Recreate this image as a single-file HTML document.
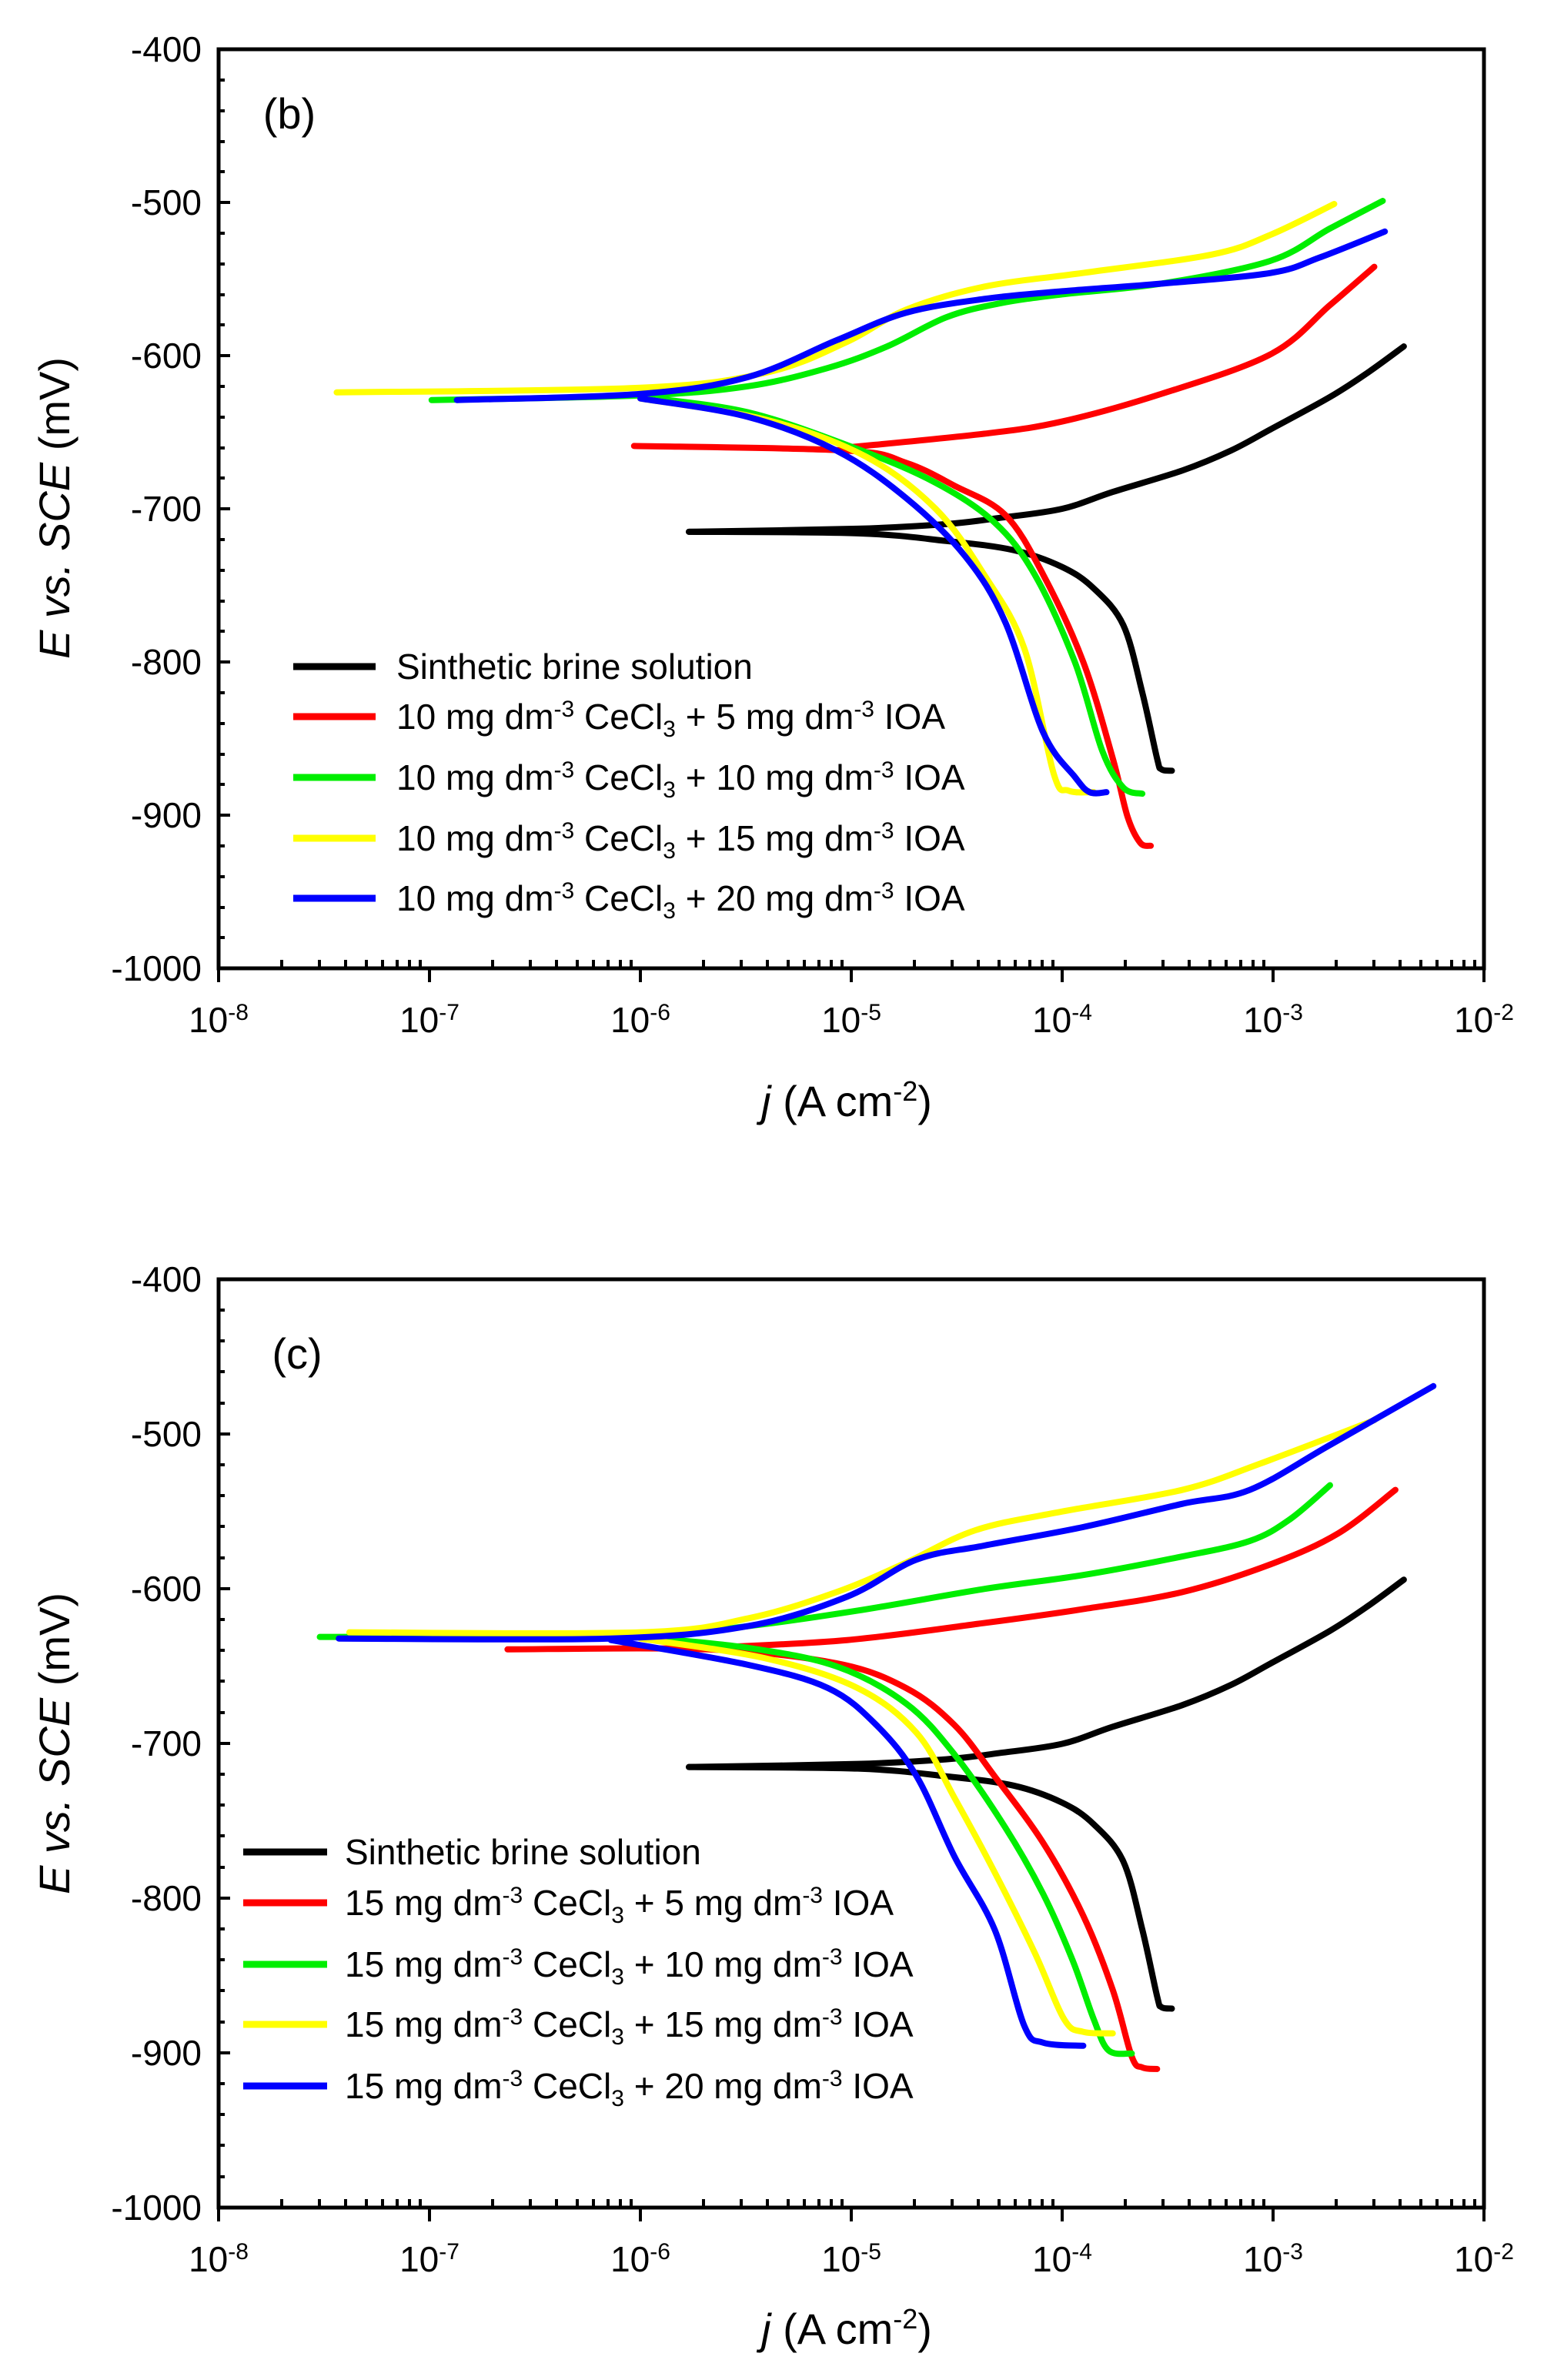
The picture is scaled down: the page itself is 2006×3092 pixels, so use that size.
<!DOCTYPE html>
<html><head><meta charset="utf-8"><style>
html,body{margin:0;padding:0;background:#fff;}
svg{display:block;}
text{font-family:"Liberation Sans",Arial,sans-serif;fill:#000;}
path.cv{stroke-width:8px;}
</style></head><body>
<svg id="root" width="2006" height="3092" viewBox="0 0 2006 3092" xmlns="http://www.w3.org/2000/svg">

<!-- ================= PLOT B ================= -->
<g id="pb">
<rect x="284" y="64" width="1644" height="1194" fill="none" stroke="#000" stroke-width="5"/>
<g stroke="#000" stroke-width="4">
<path d="M284,263h15M284,462h15M284,661h15M284,860h15M284,1059h15"/>
<path d="M284,104h8M284,144h8M284,184h8M284,223h8M284,303h8M284,343h8M284,383h8M284,422h8M284,502h8M284,542h8M284,582h8M284,621h8M284,701h8M284,741h8M284,781h8M284,820h8M284,900h8M284,940h8M284,980h8M284,1019h8M284,1099h8M284,1139h8M284,1179h8M284,1218h8"/>
<path d="M284,1258v18M558,1258v18M832,1258v18M1106,1258v18M1380,1258v18M1654,1258v18M1928,1258v18"/>
</g>
<g font-size="46" text-anchor="end">
<text x="262" y="80">-400</text>
<text x="262" y="279">-500</text>
<text x="262" y="478">-600</text>
<text x="262" y="677">-700</text>
<text x="262" y="876">-800</text>
<text x="262" y="1075">-900</text>
<text x="262" y="1274">-1000</text>
</g>
<g font-size="46" text-anchor="middle">
<text x="284" y="1341">10<tspan dy="-16" font-size="30">-8</tspan></text>
<text x="558" y="1341">10<tspan dy="-16" font-size="30">-7</tspan></text>
<text x="832" y="1341">10<tspan dy="-16" font-size="30">-6</tspan></text>
<text x="1106" y="1341">10<tspan dy="-16" font-size="30">-5</tspan></text>
<text x="1380" y="1341">10<tspan dy="-16" font-size="30">-4</tspan></text>
<text x="1654" y="1341">10<tspan dy="-16" font-size="30">-3</tspan></text>
<text x="1928" y="1341">10<tspan dy="-16" font-size="30">-2</tspan></text>
</g>
<text x="1100" y="1450" font-size="56" text-anchor="middle"><tspan font-style="italic">j</tspan> (A cm<tspan dy="-20" font-size="36">-2</tspan><tspan dy="20">)</tspan></text>
<text transform="translate(90,660) rotate(-90)" font-size="56" text-anchor="middle"><tspan font-style="italic">E vs. SCE</tspan> (mV)</text>
<text x="376" y="167" font-size="56" text-anchor="middle">(b)</text>

<g transform="matrix(274,0,0,-1.99,2476,-732)" fill="none" stroke-linejoin="round" stroke-linecap="round">
<polyline class="c" stroke="#000" points="-5.77,-715 -4.97,-713 -4.55,-710 -4.3,-706 -4.0,-700 -3.76,-689 -3.43,-675 -3.2,-662 -3.01,-648 -2.73,-627 -2.55,-611 -2.38,-594"/>
<polyline class="c" stroke="#000" points="-5.77,-715 -4.97,-716 -4.55,-721 -4.23,-727 -4.0,-738 -3.85,-752 -3.71,-776 -3.62,-820 -3.55,-863 -3.53,-870 -3.48,-871"/>
<polyline class="c" stroke="#ff0000" points="-6.03,-659 -5.02,-662 -4.74,-670 -4.51,-685 -4.27,-704 -4.09,-743 -3.9,-800 -3.76,-863 -3.69,-901 -3.63,-918 -3.58,-920"/>
<polyline class="c" stroke="#ff0000" points="-5.02,-660 -4.37,-651 -4.0,-643 -3.53,-625 -3.01,-599 -2.73,-567 -2.52,-542"/>
<polyline class="c" stroke="#00ee00" points="-6.99,-629 -6.0,-626 -5.49,-620 -5.11,-608 -4.83,-594 -4.55,-575 -4.3,-566 -4.0,-560 -3.53,-553 -3.01,-538 -2.73,-517 -2.48,-499"/>
<polyline class="c" stroke="#00ee00" points="-6.0,-627 -5.49,-637 -4.97,-661 -4.6,-683 -4.32,-709 -4.13,-743 -3.94,-800 -3.81,-858 -3.71,-882 -3.62,-886"/>
<polyline class="c" stroke="#ffff00" points="-7.44,-624 -6.0,-621 -5.4,-611 -5.02,-591 -4.74,-570 -4.37,-555 -3.9,-546 -3.29,-534 -3.01,-521 -2.71,-501"/>
<polyline class="c" stroke="#ffff00" points="-6.0,-628 -5.4,-642 -4.93,-666 -4.6,-700 -4.37,-743 -4.18,-791 -4.04,-873 -3.97,-884 -3.85,-885"/>
<polyline class="c" stroke="#0000ff" points="-6.87,-629 -6.0,-625 -5.49,-614 -5.07,-590 -4.74,-572 -4.37,-563 -4.0,-558 -3.53,-553 -3.01,-546 -2.78,-536 -2.47,-519"/>
<polyline class="c" stroke="#0000ff" points="-6.0,-628 -5.49,-640 -5.07,-662 -4.74,-693 -4.46,-731 -4.27,-774 -4.09,-846 -3.94,-875 -3.87,-885 -3.79,-885"/>
</g>

<g stroke-width="9">
<line x1="381" y1="866" x2="488" y2="866" stroke="#000"/>
<line x1="381" y1="931" x2="488" y2="931" stroke="#ff0000"/>
<line x1="381" y1="1010" x2="488" y2="1010" stroke="#00ee00"/>
<line x1="381" y1="1089" x2="488" y2="1089" stroke="#ffff00"/>
<line x1="381" y1="1167" x2="488" y2="1167" stroke="#0000ff"/>
</g>
<g font-size="46">
<text x="515" y="882">Sinthetic brine solution</text>
<text x="515" y="947">10 mg dm<tspan dy="-16" font-size="30">-3</tspan><tspan dy="16"> CeCl</tspan><tspan dy="10" font-size="30">3</tspan><tspan dy="-10"> + 5 mg dm</tspan><tspan dy="-16" font-size="30">-3</tspan><tspan dy="16"> IOA</tspan></text>
<text x="515" y="1026">10 mg dm<tspan dy="-16" font-size="30">-3</tspan><tspan dy="16"> CeCl</tspan><tspan dy="10" font-size="30">3</tspan><tspan dy="-10"> + 10 mg dm</tspan><tspan dy="-16" font-size="30">-3</tspan><tspan dy="16"> IOA</tspan></text>
<text x="515" y="1105">10 mg dm<tspan dy="-16" font-size="30">-3</tspan><tspan dy="16"> CeCl</tspan><tspan dy="10" font-size="30">3</tspan><tspan dy="-10"> + 15 mg dm</tspan><tspan dy="-16" font-size="30">-3</tspan><tspan dy="16"> IOA</tspan></text>
<text x="515" y="1183">10 mg dm<tspan dy="-16" font-size="30">-3</tspan><tspan dy="16"> CeCl</tspan><tspan dy="10" font-size="30">3</tspan><tspan dy="-10"> + 20 mg dm</tspan><tspan dy="-16" font-size="30">-3</tspan><tspan dy="16"> IOA</tspan></text>
</g>
</g>

<!-- ================= PLOT C ================= -->
<g id="pc">
<rect x="284" y="1662" width="1644" height="1206" fill="none" stroke="#000" stroke-width="5"/>
<g stroke="#000" stroke-width="4">
<path d="M284,1863h15M284,2064h15M284,2265h15M284,2466h15M284,2667h15"/>
<path d="M284,1702h8M284,1742h8M284,1782h8M284,1823h8M284,1903h8M284,1943h8M284,1983h8M284,2024h8M284,2104h8M284,2144h8M284,2184h8M284,2225h8M284,2305h8M284,2345h8M284,2385h8M284,2426h8M284,2506h8M284,2546h8M284,2586h8M284,2627h8M284,2707h8M284,2747h8M284,2787h8M284,2828h8"/>
<path d="M284,2868v18M558,2868v18M832,2868v18M1106,2868v18M1380,2868v18M1654,2868v18M1928,2868v18"/>
</g>
<g font-size="46" text-anchor="end">
<text x="262" y="1678">-400</text>
<text x="262" y="1879">-500</text>
<text x="262" y="2080">-600</text>
<text x="262" y="2281">-700</text>
<text x="262" y="2482">-800</text>
<text x="262" y="2683">-900</text>
<text x="262" y="2884">-1000</text>
</g>
<g font-size="46" text-anchor="middle">
<text x="284" y="2951">10<tspan dy="-16" font-size="30">-8</tspan></text>
<text x="558" y="2951">10<tspan dy="-16" font-size="30">-7</tspan></text>
<text x="832" y="2951">10<tspan dy="-16" font-size="30">-6</tspan></text>
<text x="1106" y="2951">10<tspan dy="-16" font-size="30">-5</tspan></text>
<text x="1380" y="2951">10<tspan dy="-16" font-size="30">-4</tspan></text>
<text x="1654" y="2951">10<tspan dy="-16" font-size="30">-3</tspan></text>
<text x="1928" y="2951">10<tspan dy="-16" font-size="30">-2</tspan></text>
</g>
<text x="1100" y="3045" font-size="56" text-anchor="middle"><tspan font-style="italic">j</tspan> (A cm<tspan dy="-20" font-size="36">-2</tspan><tspan dy="20">)</tspan></text>
<text transform="translate(90,2265) rotate(-90)" font-size="56" text-anchor="middle"><tspan font-style="italic">E vs. SCE</tspan> (mV)</text>
<text x="386" y="1778" font-size="56" text-anchor="middle">(c)</text>

<g transform="matrix(274,0,0,-2.0117,2476,857.3)" fill="none" stroke-linejoin="round" stroke-linecap="round">
<polyline class="c" stroke="#000" points="-5.77,-715 -4.97,-713 -4.55,-710 -4.3,-706 -4.0,-700 -3.76,-689 -3.43,-675 -3.2,-662 -3.01,-648 -2.73,-627 -2.55,-611 -2.38,-594"/>
<polyline class="c" stroke="#000" points="-5.77,-715 -4.97,-716 -4.55,-721 -4.23,-727 -4.0,-738 -3.85,-752 -3.71,-776 -3.62,-820 -3.55,-863 -3.53,-870 -3.48,-871"/>
<polyline class="c" stroke="#ff0000" points="-6.63,-639 -5.68,-639 -5.07,-648 -4.74,-664 -4.51,-688 -4.32,-721 -4.09,-764 -3.9,-811 -3.76,-859 -3.67,-902 -3.62,-909 -3.55,-910"/>
<polyline class="c" stroke="#ff0000" points="-5.68,-638 -5.02,-633 -4.37,-622 -3.9,-613 -3.43,-602 -3.01,-584 -2.69,-564 -2.42,-536"/>
<polyline class="c" stroke="#00ee00" points="-7.52,-631 -6.0,-630 -5.49,-624 -4.97,-614 -4.37,-600 -3.9,-591 -3.43,-579 -3.11,-569 -2.92,-555 -2.73,-533"/>
<polyline class="c" stroke="#00ee00" points="-6.0,-631 -5.49,-638 -5.07,-650 -4.74,-674 -4.51,-707 -4.27,-754 -4.09,-797 -3.95,-840 -3.85,-878 -3.78,-898 -3.67,-900"/>
<polyline class="c" stroke="#ffff00" points="-7.38,-628 -6.0,-628 -5.49,-619 -5.07,-602 -4.74,-583 -4.41,-562 -4.0,-550 -3.43,-536 -3.06,-519 -2.52,-491"/>
<polyline class="c" stroke="#ffff00" points="-6.0,-632 -5.4,-645 -4.97,-664 -4.69,-693 -4.51,-735 -4.32,-783 -4.13,-835 -3.99,-878 -3.9,-886 -3.76,-887"/>
<polyline class="c" stroke="#0000ff" points="-7.43,-632 -6.14,-632 -5.49,-624 -5.02,-605 -4.69,-581 -4.37,-572 -3.9,-560 -3.43,-545 -3.11,-536 -2.73,-507 -2.24,-469"/>
<polyline class="c" stroke="#0000ff" points="-6.14,-633 -5.49,-649 -5.11,-664 -4.88,-688 -4.69,-721 -4.51,-773 -4.32,-820 -4.18,-882 -4.09,-893 -3.9,-895"/>
</g>

<g stroke-width="9">
<line x1="316" y1="2406" x2="425" y2="2406" stroke="#000"/>
<line x1="316" y1="2472" x2="425" y2="2472" stroke="#ff0000"/>
<line x1="316" y1="2552" x2="425" y2="2552" stroke="#00ee00"/>
<line x1="316" y1="2630" x2="425" y2="2630" stroke="#ffff00"/>
<line x1="316" y1="2710" x2="425" y2="2710" stroke="#0000ff"/>
</g>
<g font-size="46">
<text x="448" y="2422">Sinthetic brine solution</text>
<text x="448" y="2488">15 mg dm<tspan dy="-16" font-size="30">-3</tspan><tspan dy="16"> CeCl</tspan><tspan dy="10" font-size="30">3</tspan><tspan dy="-10"> + 5 mg dm</tspan><tspan dy="-16" font-size="30">-3</tspan><tspan dy="16"> IOA</tspan></text>
<text x="448" y="2568">15 mg dm<tspan dy="-16" font-size="30">-3</tspan><tspan dy="16"> CeCl</tspan><tspan dy="10" font-size="30">3</tspan><tspan dy="-10"> + 10 mg dm</tspan><tspan dy="-16" font-size="30">-3</tspan><tspan dy="16"> IOA</tspan></text>
<text x="448" y="2646">15 mg dm<tspan dy="-16" font-size="30">-3</tspan><tspan dy="16"> CeCl</tspan><tspan dy="10" font-size="30">3</tspan><tspan dy="-10"> + 15 mg dm</tspan><tspan dy="-16" font-size="30">-3</tspan><tspan dy="16"> IOA</tspan></text>
<text x="448" y="2726">15 mg dm<tspan dy="-16" font-size="30">-3</tspan><tspan dy="16"> CeCl</tspan><tspan dy="10" font-size="30">3</tspan><tspan dy="-10"> + 20 mg dm</tspan><tspan dy="-16" font-size="30">-3</tspan><tspan dy="16"> IOA</tspan></text>
</g>
</g>

<g stroke="#000" stroke-width="4">
<path d="
M366,1258v-11M415,1258v-11M449,1258v-11M476,1258v-11M497,1258v-11M516,1258v-11M532,1258v-11M546,1258v-11
M640,1258v-11M689,1258v-11M723,1258v-11M750,1258v-11M771,1258v-11M790,1258v-11M806,1258v-11M820,1258v-11
M914,1258v-11M963,1258v-11M997,1258v-11M1024,1258v-11M1045,1258v-11M1064,1258v-11M1080,1258v-11M1094,1258v-11
M1188,1258v-11M1237,1258v-11M1271,1258v-11M1298,1258v-11M1319,1258v-11M1338,1258v-11M1354,1258v-11M1368,1258v-11
M1462,1258v-11M1511,1258v-11M1545,1258v-11M1572,1258v-11M1593,1258v-11M1612,1258v-11M1628,1258v-11M1642,1258v-11
M1736,1258v-11M1785,1258v-11M1819,1258v-11M1846,1258v-11M1867,1258v-11M1886,1258v-11M1902,1258v-11M1916,1258v-11
M366,2868v-11M415,2868v-11M449,2868v-11M476,2868v-11M497,2868v-11M516,2868v-11M532,2868v-11M546,2868v-11
M640,2868v-11M689,2868v-11M723,2868v-11M750,2868v-11M771,2868v-11M790,2868v-11M806,2868v-11M820,2868v-11
M914,2868v-11M963,2868v-11M997,2868v-11M1024,2868v-11M1045,2868v-11M1064,2868v-11M1080,2868v-11M1094,2868v-11
M1188,2868v-11M1237,2868v-11M1271,2868v-11M1298,2868v-11M1319,2868v-11M1338,2868v-11M1354,2868v-11M1368,2868v-11
M1462,2868v-11M1511,2868v-11M1545,2868v-11M1572,2868v-11M1593,2868v-11M1612,2868v-11M1628,2868v-11M1642,2868v-11
M1736,2868v-11M1785,2868v-11M1819,2868v-11M1846,2868v-11M1867,2868v-11M1886,2868v-11M1902,2868v-11M1916,2868v-11"/>
</g>
</svg>
<script>
(function(){
  var NS="http://www.w3.org/2000/svg";
  var pls=document.querySelectorAll("polyline.c");
  for(var k=0;k<pls.length;k++){
    var pl=pls[k];
    var pts=pl.getAttribute("points").trim().split(/\s+/).map(function(s){var a=s.split(",");return [parseFloat(a[0]),parseFloat(a[1])];});
    var d="M"+pts[0][0]+","+pts[0][1];
    for(var i=0;i<pts.length-1;i++){
      var p0=pts[i>0?i-1:0],p1=pts[i],p2=pts[i+1],p3=pts[i+2<pts.length?i+2:i+1];
      var c1x=p1[0]+(p2[0]-p0[0])/6,c1y=p1[1]+(p2[1]-p0[1])/6;
      var c2x=p2[0]-(p3[0]-p1[0])/6,c2y=p2[1]-(p3[1]-p1[1])/6;
      d+=" C"+c1x+","+c1y+" "+c2x+","+c2y+" "+p2[0]+","+p2[1];
    }
    var p=document.createElementNS(NS,"path");
    p.setAttribute("d",d);
    p.setAttribute("class","cv");
    p.setAttribute("stroke",pl.getAttribute("stroke"));
    p.setAttribute("vector-effect","non-scaling-stroke");
    p.setAttribute("fill","none");
    pl.parentNode.replaceChild(p,pl);
  }
})();
</script>
</body></html>
